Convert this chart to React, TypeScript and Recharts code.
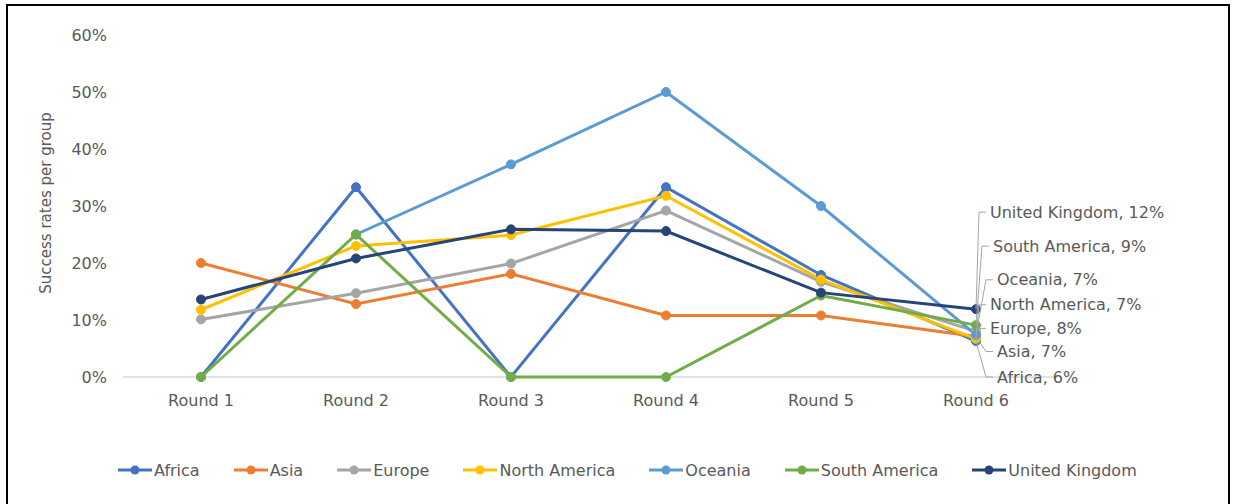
import React from 'react';
import { LineChart, Line, XAxis, YAxis, LabelList, CartesianGrid } from 'recharts';

const rounds = ['Round 1', 'Round 2', 'Round 3', 'Round 4', 'Round 5', 'Round 6'];
const yTicks = [0, 10, 20, 30, 40, 50, 60];

const africa = [0, 33.3, 0, 33.3, 17.9, 6.3];
const asia = [20, 12.8, 18.1, 10.8, 10.8, 7.1];
const europe = [10.1, 14.7, 19.9, 29.2, 16.7, 8.0];
const northAmerica = [11.8, 23.0, 24.9, 31.8, 17.1, 6.7];
const oceania = [null, 25, 37.3, 50, 30, 7.4];
const southAmerica = [0, 25, 0, 0, 14.3, 9.1];
const unitedKingdom = [13.6, 20.8, 25.9, 25.6, 14.8, 11.9];

const endLabels = ['Africa, 6%', 'Asia, 7%', 'Europe, 8%', 'North America, 7%', 'Oceania, 7%', 'South America, 9%', 'United Kingdom, 12%'];

const series = [
  { key: 'Africa', values: africa, color: '#4472C4', dy: 36, dx: 21 },
  { key: 'Asia', values: asia, color: '#ED7D31', dy: 15, dx: 21 },
  { key: 'Europe', values: europe, color: '#A5A5A5', dy: -3, dx: 14 },
  { key: 'North America', values: northAmerica, color: '#FFC000', dy: -34, dx: 14 },
  { key: 'Oceania', values: oceania, color: '#5B9BD5', dy: -55, dx: 21 },
  { key: 'South America', values: southAmerica, color: '#70AD47', dy: -79, dx: 17 },
  { key: 'United Kingdom', values: unitedKingdom, color: '#264478', dy: -97, dx: 14 },
];

const data = rounds.map((r, i) => {
  const row: Record<string, string | number | null> = { name: r };
  series.forEach((s) => { row[s.key] = s.values[i]; });
  return row;
});

const FONT = '"DejaVu Sans", sans-serif';
const TXT = '#595959';

function endLabel(idx: number) {
  const s = series[idx];
  return (p: any) => {
    if (p.index !== rounds.length - 1) return null;
    const px = Number(p.x), py = Number(p.y);
    const ly = py + s.dy;
    const bx = px + s.dx - 11;
    return (
      <g>
        <path d={`M${px},${py} L${bx},${ly} L${px + s.dx - 4},${ly}`} stroke="#A6A6A6" strokeWidth={1} fill="none" />
        <text x={px + s.dx} y={ly} dy="0.35em" fontSize={16} fontFamily={FONT} fill={TXT}>
          {endLabels[idx]}
        </text>
      </g>
    );
  };
}

function LegendRow() {
  return (
    <div style={{ position: 'absolute', left: 118, top: 459, display: 'flex', gap: 34, fontFamily: FONT, fontSize: 16, color: TXT }}>
      {series.map((s) => (
        <div key={s.key} style={{ display: 'flex', alignItems: 'center' }}>
          <svg width={34} height={22}>
            <line x1={0} y1={11} x2={34} y2={11} stroke={s.color} strokeWidth={3} />
            <circle cx={17} cy={11} r={4.5} fill={s.color} />
          </svg>
          <span style={{ marginLeft: 2 }}>{s.key}</span>
        </div>
      ))}
    </div>
  );
}

export default function App() {
  return (
    <div style={{ position: 'absolute', left: 0, top: 0, width: 1236, height: 504, background: '#fff', overflow: 'hidden' }}>
      <div style={{ position: 'absolute', left: 6, top: 4, width: 1220, height: 520, border: '2px solid #000' }} />
      <div style={{ position: 'absolute', left: 0, top: 0 }}>
        <LineChart width={1236} height={504} data={data} margin={{ top: 35, right: 182, left: 63, bottom: 97 }}>
          <CartesianGrid vertical={false} horizontalValues={[0]} stroke="#D9D9D9" strokeWidth={1.5} />
          <XAxis
            dataKey="name"
            height={30}
            padding={{ left: 78, right: 78 }}
            tickSize={0}
            tickMargin={18}
            axisLine={false}
            tickLine={false}
            tick={{ fill: TXT, fontSize: 16, fontFamily: FONT }}
            interval={0}
          />
          <YAxis
            width={60}
            domain={[0, 60]}
            ticks={yTicks}
            tickFormatter={(v: number) => `${v}%`}
            axisLine={false}
            tickLine={false}
            tickSize={0}
            tickMargin={16}
            tick={{ fill: TXT, fontSize: 16, fontFamily: FONT }}
            label={{
              content: (p: any) => {
                const vb = p.viewBox;
                const cx = vb.x - 17;
                const cy = vb.y + vb.height / 2 - 3;
                return (
                  <text x={cx} y={cy} transform={`rotate(-90, ${cx}, ${cy})`} textAnchor="middle" dy="0.35em" fontSize={15} fontFamily={FONT} fill={TXT}>
                    Success rates per group
                  </text>
                );
              },
            }}
          />
          {series.map((s, i) => (
            <Line
              key={s.key}
              type="linear"
              dataKey={s.key}
              stroke={s.color}
              strokeWidth={3}
              dot={{ r: 4.5, fill: s.color, stroke: s.color, strokeWidth: 1 }}
              activeDot={false}
              isAnimationActive={false}
            >
              <LabelList dataKey={s.key} content={endLabel(i)} />
            </Line>
          ))}
        </LineChart>
      </div>
      <LegendRow />
    </div>
  );
}
